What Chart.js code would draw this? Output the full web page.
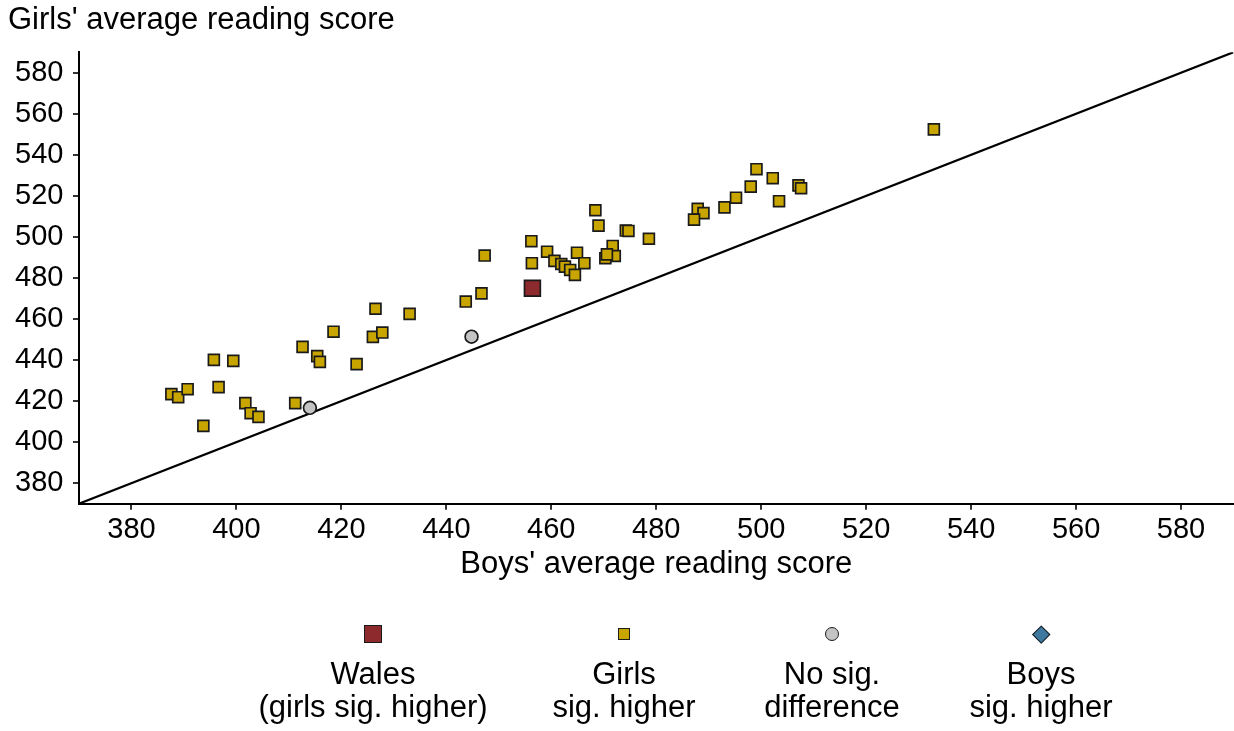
<!DOCTYPE html>
<html>
<head>
<meta charset="utf-8">
<script src="https://cdn.jsdelivr.net/npm/chart.js@4.4.1/dist/chart.umd.min.js"></script>
<style>
  body { margin: 0; background: #fff; font-family: "Liberation Sans", Arial, sans-serif; }
  #wrap { position: relative; width: 1234px; height: 731px; }
  #chart { position: absolute; left: 0; top: 0; }
  .item { position: absolute; width: 320px; text-align: center; font-size: 31px; line-height: 33px; color: #000; }
  .mark { position: absolute; box-sizing: border-box; border: 1.7px solid #1a1a1a; }
</style>
</head>
<body>
<div id="wrap">
  <canvas id="chart" width="1234" height="731"></canvas>
  <div id="legend"></div>
</div>
<script>
// axis range and ticks
const axisMin = 370;
const axisMax = 590;
const tickValues = [380, 400, 420, 440, 460, 480, 500, 520, 540, 560, 580];

// girls sig. higher: boys' score / girls' score
const girlsHigherBoys = [387.6, 388.9, 390.7, 393.7, 395.7, 396.6, 399.4, 401.7, 402.7, 404.2,
  411.2, 412.6, 415.4, 415.9, 418.5, 422.9, 426.5, 426.0, 427.8, 433.0,
  443.7, 446.7, 447.3, 456.2, 456.3, 459.2, 460.6, 461.9, 462.6, 463.6,
  464.5, 464.9, 466.3, 468.4, 469.0, 471.7, 472.1, 470.3, 470.6, 474.2,
  474.7, 478.6, 487.9, 489.0, 487.2, 493.0, 495.2, 498.0, 499.1, 502.2,
  503.4, 507.1, 507.6, 532.9];
const girlsHigherGirls = [423.4, 421.9, 425.8, 407.9, 440.1, 426.8, 439.6, 419.0, 414.1, 412.3,
  419.0, 446.4, 441.9, 439.1, 453.8, 438.0, 465.0, 451.3, 453.4, 462.5,
  468.5, 472.5, 490.9, 497.9, 487.2, 492.8, 488.3, 486.8, 485.5, 483.9,
  481.5, 492.3, 487.2, 513.0, 505.5, 495.6, 490.7, 489.6, 491.5, 503.1,
  502.9, 499.1, 513.7, 511.6, 508.4, 514.4, 519.1, 524.5, 533.0, 528.6,
  517.4, 525.1, 523.7, 552.4];

// no significant difference
const noSigBoys = [414.0, 444.8];
const noSigGirls = [416.7, 451.4];

// Wales
const walesBoys = [456.4];
const walesGirls = [475.0];

// boys sig. higher (none)
const boysHigherBoys = [];
const boysHigherGirls = [];

const legendLabels = [
  ['Wales', '(girls sig. higher)'],
  ['Girls', 'sig. higher'],
  ['No sig.', 'difference'],
  ['Boys', 'sig. higher']
];

const GOLD = '#C9A500';
const WALES = '#8C2A2E';
const GREY = '#C4C4C4';
const BLUE = '#3F79A0';
const EDGE = '#1a1a1a';

const toPoints = (xs, ys) => xs.map((x, i) => ({ x: x, y: ys[i] }));

const ctx = document.getElementById('chart');

new Chart(ctx, {
  type: 'scatter',
  data: {
    datasets: [
      {
        type: 'line',
        label: 'Equal',
        data: [axisMin, axisMax].map(v => ({ x: v, y: v })),
        borderColor: '#000',
        borderWidth: 2.2,
        pointRadius: 0,
        order: 10
      },
      {
        label: 'Girls sig. higher',
        data: toPoints(girlsHigherBoys, girlsHigherGirls),
        pointStyle: 'rect',
        pointRadius: 7.7,
        backgroundColor: GOLD,
        borderColor: EDGE,
        borderWidth: 1.7,
        order: 3
      },
      {
        label: 'No sig. difference',
        data: toPoints(noSigBoys, noSigGirls),
        pointStyle: 'circle',
        pointRadius: 6.4,
        backgroundColor: GREY,
        borderColor: EDGE,
        borderWidth: 1.7,
        order: 2
      },
      {
        label: 'Boys sig. higher',
        data: toPoints(boysHigherBoys, boysHigherGirls),
        pointStyle: 'rectRot',
        pointRadius: 8,
        backgroundColor: BLUE,
        borderColor: EDGE,
        borderWidth: 1.7,
        order: 2
      },
      {
        label: 'Wales',
        data: toPoints(walesBoys, walesGirls),
        pointStyle: 'rect',
        pointRadius: 11.2,
        backgroundColor: WALES,
        borderColor: EDGE,
        borderWidth: 1.7,
        order: 1
      }
    ]
  },
  options: {
    responsive: false,
    animation: false,
    events: [],
    layout: { autoPadding: false, padding: { left: 8, right: 0.5, top: 0, bottom: 148.1 } },
    plugins: {
      legend: { display: false },
      tooltip: { enabled: false },
      title: {
        display: true,
        text: "Girls' average reading score",
        align: 'start',
        color: '#000',
        font: { family: '"Liberation Sans", Arial, sans-serif', size: 31, weight: 'normal' },
        padding: { top: 2.2, bottom: 12.8 }
      }
    },
    scales: {
      x: {
        type: 'linear',
        min: axisMin,
        max: axisMax,
        afterBuildTicks: scale => { scale.ticks = tickValues.map(v => ({ value: v })); },
        afterFit: scale => { scale.height = 79.2; },
        grid: { display: true, drawOnChartArea: false, drawTicks: true, tickLength: 6, color: '#333', lineWidth: 2 },
        border: { display: true, color: '#000', width: 2 },
        ticks: {
          padding: 3,
          color: '#000',
          font: { family: '"Liberation Sans", Arial, sans-serif', size: 29 }
        },
        title: {
          display: true,
          text: "Boys' average reading score",
          color: '#000',
          padding: 0,
          font: { family: '"Liberation Sans", Arial, sans-serif', size: 31 }
        }
      },
      y: {
        type: 'linear',
        min: axisMin,
        max: axisMax,
        afterBuildTicks: scale => { scale.ticks = tickValues.map(v => ({ value: v })); },
        afterFit: scale => { scale.width = 71; },
        grid: { display: true, drawOnChartArea: false, drawTicks: true, tickLength: 6, color: '#333', lineWidth: 2 },
        border: { display: true, color: '#000', width: 2 },
        ticks: {
          padding: 9.5,
          color: '#000',
          font: { family: '"Liberation Sans", Arial, sans-serif', size: 29 }
        }
      }
    }
  }
});

// legend below the chart
const legendX = [373, 624, 832, 1041];
const markerY = 634;
const markers = [
  { size: 17.5, color: WALES, radius: '0', rotate: false },
  { size: 12.5, color: GOLD, radius: '0', rotate: false },
  { size: 14, color: GREY, radius: '50%', rotate: false },
  { size: 12.5, color: BLUE, radius: '0', rotate: true }
];
const legend = document.getElementById('legend');
legendLabels.forEach((lines, i) => {
  const m = markers[i];
  const mark = document.createElement('div');
  mark.className = 'mark';
  mark.style.width = m.size + 'px';
  mark.style.height = m.size + 'px';
  mark.style.left = (legendX[i] - m.size / 2) + 'px';
  mark.style.top = (markerY - m.size / 2) + 'px';
  mark.style.background = m.color;
  mark.style.borderRadius = m.radius;
  if (m.rotate) mark.style.transform = 'rotate(45deg)';
  legend.appendChild(mark);

  const item = document.createElement('div');
  item.className = 'item';
  item.style.left = (legendX[i] - 160) + 'px';
  item.style.top = '657px';
  item.innerHTML = lines.join('<br>');
  legend.appendChild(item);
});
</script>
</body>
</html>
